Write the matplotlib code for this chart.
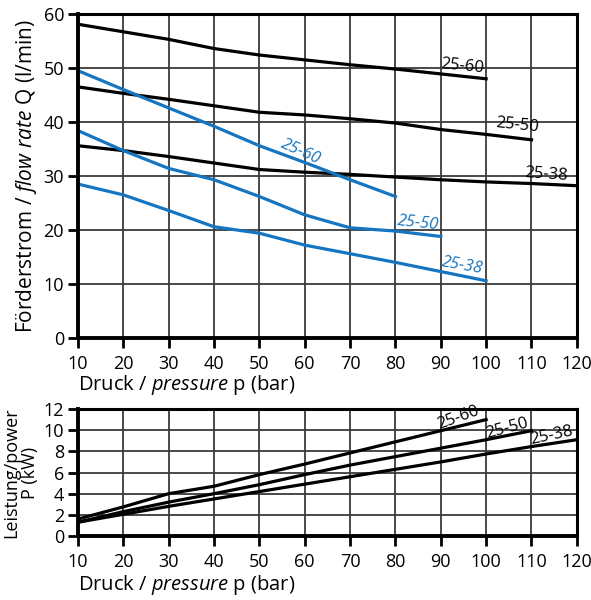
import numpy as np
import matplotlib
matplotlib.use("Agg")
import matplotlib.pyplot as plt

plt.rcParams['font.family'] = ['Open Sans', 'DejaVu Sans']
plt.rcParams['mathtext.fontset'] = 'custom'
plt.rcParams['mathtext.rm'] = 'Open Sans'
plt.rcParams['mathtext.it'] = 'Open Sans:italic'

# --- flow rate Q (l/min) vs pressure p (bar) ---
p_q = [10, 20, 30, 40, 50, 60, 70, 80, 90, 100, 110, 120]
q_black_60 = [58.1, 56.7, 55.3, 53.6, 52.4, 51.5, 50.6, 49.8, 48.9, 48.0]
q_black_50 = [46.5, 45.3, 44.2, 43.0, 41.8, 41.3, 40.6, 39.8, 38.6, 37.7, 36.7]
q_black_38 = [35.6, 34.7, 33.6, 32.4, 31.2, 30.7, 30.3, 29.8, 29.3, 28.9, 28.6, 28.2]
q_blue_60 = [49.5, 46.0, 42.6, 39.2, 35.6, 32.5, 29.3, 26.2]
q_blue_50 = [38.4, 34.7, 31.4, 29.3, 26.2, 22.8, 20.4, 19.8, 18.8]
q_blue_38 = [28.5, 26.5, 23.6, 20.6, 19.4, 17.2, 15.6, 14.0, 12.3, 10.6]

# --- power P (kW) vs pressure p (bar) ---
p_p = [10, 20, 30, 40, 50, 60, 70, 80, 90, 100, 110, 120]
pw_60 = [1.6, 2.75, 4.0, 4.7, 5.8, 6.8, 7.85, 8.9, 9.95, 11.0]
pw_50 = [1.3, 2.3, 3.2, 4.0, 4.85, 5.8, 6.7, 7.5, 8.3, 9.1, 9.95]
pw_38 = [1.3, 2.05, 2.8, 3.5, 4.2, 4.9, 5.6, 6.3, 7.0, 7.75, 8.45, 9.1]

blue = '#1575c0'
grid_c = '#3a3a3a'

fig = plt.figure(figsize=(5.91, 6.0), dpi=100)
ax1 = fig.add_axes([0.132, 0.4367, 0.844, 0.54])
ax2 = fig.add_axes([0.132, 0.1067, 0.844, 0.2116])


def style(ax, yticks):
    ax.set_xlim(10, 120)
    ax.set_xticks(range(10, 121, 10))
    ax.set_yticks(yticks)
    ax.set_ylim(yticks[0], yticks[-1])
    ax.grid(True, color=grid_c, linewidth=1.3)
    ax.set_axisbelow(True)
    for s in ['left', 'bottom']:
        ax.spines[s].set_linewidth(2.8)
    for s in ['top', 'right']:
        ax.spines[s].set_linewidth(2.2)
    ax.tick_params(direction='out', length=7, width=2, labelsize=13)
    ax.tick_params(axis='x', pad=5)
    ax.tick_params(axis='y', pad=3)


style(ax1, list(range(0, 61, 10)))
style(ax2, list(range(0, 13, 2)))

lw = 2.3
ax1.plot(p_q[:len(q_black_60)], q_black_60, color='black', lw=lw)
ax1.plot(p_q[:len(q_black_50)], q_black_50, color='black', lw=lw)
ax1.plot(p_q[:len(q_black_38)], q_black_38, color='black', lw=lw)
ax1.plot(p_q[:len(q_blue_60)], q_blue_60, color=blue, lw=lw)
ax1.plot(p_q[:len(q_blue_50)], q_blue_50, color=blue, lw=lw)
ax1.plot(p_q[:len(q_blue_38)], q_blue_38, color=blue, lw=lw)

fs = 12
ax1.text(94.7, 50.3, '25-60', fontsize=fs, rotation=-6, ha='center', va='center')
ax1.text(106.8, 39.3, '25-50', fontsize=fs, rotation=-6, ha='center', va='center')
ax1.text(113.2, 30.2, '25-38', fontsize=fs, rotation=-4, ha='center', va='center')
ax1.text(59.2, 34.4, '25-60', fontsize=fs, rotation=-24, ha='center', va='center', color=blue, style='italic')
ax1.text(85.1, 21.2, '25-50', fontsize=fs, rotation=-6, ha='center', va='center', color=blue, style='italic')
ax1.text(94.8, 13.4, '25-38', fontsize=fs, rotation=-10, ha='center', va='center', color=blue, style='italic')

ax2.plot(p_p[:len(pw_60)], pw_60, color='black', lw=lw)
ax2.plot(p_p[:len(pw_50)], pw_50, color='black', lw=lw)
ax2.plot(p_p[:len(pw_38)], pw_38, color='black', lw=lw)

ax2.text(93.8, 11.2, '25-60', fontsize=fs, rotation=20, ha='center', va='center')
ax2.text(104.7, 10.2, '25-50', fontsize=fs, rotation=15, ha='center', va='center')
ax2.text(114.5, 9.5, '25-38', fontsize=fs, rotation=12, ha='center', va='center')

ax1.set_ylabel(r'Förderstrom / $\mathit{flow\ rate}$ Q (l/min)', fontsize=15, labelpad=3)
ax1.set_xlabel(r'Druck / $\mathit{pressure}$ p (bar)', fontsize=14.5, labelpad=0, loc='left')
ax2.set_ylabel('Leistung/power\nP (kW)', fontsize=13, labelpad=3, linespacing=1.1)
ax2.set_xlabel(r'Druck / $\mathit{pressure}$ p (bar)', fontsize=14.5, labelpad=2, loc='left')

fig.savefig('out.png', dpi=100)
